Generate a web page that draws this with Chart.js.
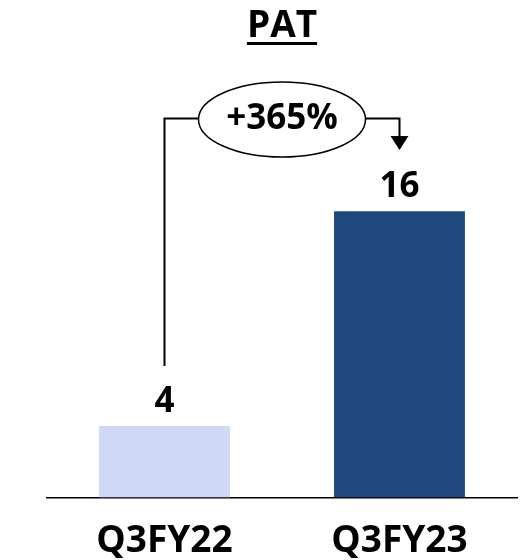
<!DOCTYPE html>
<html>
<head>
<meta charset="utf-8">
<script src="https://cdn.jsdelivr.net/npm/chart.js@4/dist/chart.umd.min.js"></script>
<style>
  html, body { margin: 0; padding: 0; background: #fff; }
  #wrap { width: 524px; height: 560px; position: relative; }
</style>
</head>
<body>
<div id="wrap"><canvas id="c" width="524" height="560"></canvas></div>
<script>
// PAT by quarter
const categories = ['Q3FY22', 'Q3FY23'];
const patValues = [4, 16];
const barColors = ['#CFD9F5', '#1F497D'];
const chartTitle = 'PAT';
const growthLabel = '+365%';

const FONT = '"Open Sans", Lato, sans-serif';

// Title, value labels and the growth bubble with its connectors
const decorations = {
  id: 'decorations',
  afterDatasetsDraw(chart) {
    const ctx = chart.ctx;
    const bars = chart.getDatasetMeta(0).data;
    ctx.save();
    ctx.fillStyle = '#000';
    ctx.strokeStyle = '#000';

    // title with underline
    ctx.font = 'bold 37px ' + FONT;
    ctx.textAlign = 'center';
    ctx.textBaseline = 'alphabetic';
    const tx = (bars[0].x + bars[1].x) / 2;
    ctx.fillText(chartTitle, tx, 37);
    const tw = ctx.measureText(chartTitle).width;
    ctx.fillRect(tx - tw / 2, 42, tw, 3);

    // value labels
    ctx.font = 'bold 35px ' + FONT;
    bars.forEach((b, i) => {
      ctx.fillText(String(patValues[i]), b.x, b.y - 14);
    });

    // growth bubble
    const cx = (bars[0].x + bars[1].x) / 2;
    const cy = 119.5;
    const rx = 83.5, ry = 37.5;
    ctx.lineWidth = 1.5;
    ctx.beginPath();
    ctx.ellipse(cx, cy, rx, ry, 0, 0, Math.PI * 2);
    ctx.fillStyle = '#fff';
    ctx.fill();
    ctx.stroke();
    ctx.fillStyle = '#000';
    ctx.font = 'bold 35px ' + FONT;
    ctx.textBaseline = 'middle';
    ctx.fillText(growthLabel, cx, cy);

    // left connector: from above the first value label up to the bubble
    const lineY = 118.5;
    ctx.lineWidth = 2;
    ctx.beginPath();
    ctx.moveTo(bars[0].x, bars[0].y - 60);
    ctx.lineTo(bars[0].x, lineY);
    ctx.lineTo(cx - rx, lineY);
    ctx.stroke();

    // right connector with arrow down to the second value
    const ax = bars[1].x;
    ctx.beginPath();
    ctx.moveTo(cx + rx, lineY);
    ctx.lineTo(ax, lineY);
    ctx.lineTo(ax, 137);
    ctx.stroke();
    ctx.beginPath();
    ctx.moveTo(ax - 9, 136);
    ctx.lineTo(ax + 9, 136);
    ctx.lineTo(ax, 150);
    ctx.closePath();
    ctx.fill();
    ctx.restore();
  }
};

new Chart(document.getElementById('c'), {
  type: 'bar',
  data: {
    labels: categories,
    datasets: [{
      data: patValues,
      backgroundColor: barColors,
      borderWidth: 0,
      categoryPercentage: 1,
      barPercentage: 0.557
    }]
  },
  options: {
    responsive: false,
    animation: false,
    devicePixelRatio: 1,
    layout: { padding: { left: 47, right: 7, top: 68, bottom: -26 } },
    plugins: { legend: { display: false }, tooltip: { enabled: false }, title: { display: false } },
    scales: {
      x: {
        grid: { display: false, drawTicks: false },
        border: { display: true, color: '#000', width: 1.5 },
        ticks: { color: '#000', font: { family: FONT, size: 37, weight: 'bold' }, padding: 22 }
      },
      y: { display: false, min: 0, max: 24 }
    }
  },
  plugins: [decorations]
});
</script>
</body>
</html>
